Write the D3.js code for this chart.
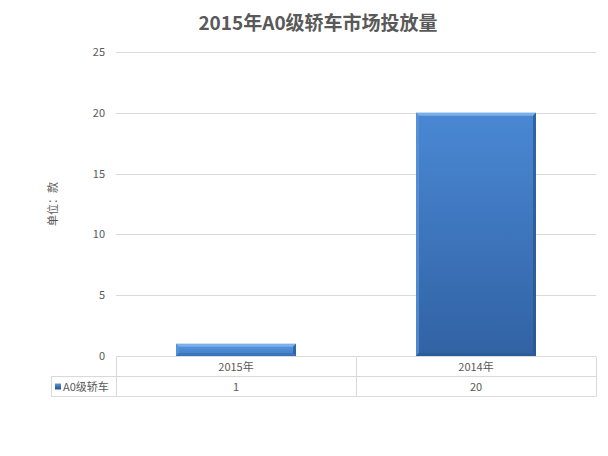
<!DOCTYPE html>
<html>
<head>
<meta charset="utf-8">
<script src="https://cdn.jsdelivr.net/npm/d3@7/dist/d3.min.js"></script>
<style>
  body { margin: 0; background: #fff; }
  svg text { font-family: "Noto Sans CJK SC", "Microsoft YaHei", sans-serif; fill: #595959; }
</style>
</head>
<body>
<svg width="608" height="456"></svg>
<script>
"use strict";

// data
const categories = ["2015年", "2014年"];
const seriesName = "A0级轿车";
const values = [1, 20];
const yTicks = [0, 5, 10, 15, 20, 25];
const yLabel = "单位：款";
const title = "2015年A0级轿车市场投放量";

const chart = d3.select("svg");

const plot = { left: 116, right: 596, top: 52, bottom: 356 },
      rowHeight = 20,
      tableLeft = 51,
      bevel = 3,
      gridColor = "#d9d9d9";

let scaleX = d3.scaleBand()
  .domain(categories)
  .range([plot.left, plot.right])
  .paddingInner(0.5)
  .paddingOuter(0.25);

let scaleY = d3.scaleLinear()
  .domain([0, 25])
  .range([plot.bottom, plot.top]);

// gradients
let defs = chart.append("defs");
let grad = defs.append("linearGradient")
  .attr("id", "barFill").attr("x1", 0).attr("y1", 0).attr("x2", 0).attr("y2", 1);
grad.append("stop").attr("offset", "0%").attr("stop-color", "#4a88d4");
grad.append("stop").attr("offset", "100%").attr("stop-color", "#3162a4");

let shortGrad = defs.append("linearGradient")
  .attr("id", "shortFill").attr("x1", 0).attr("y1", 0).attr("x2", 0).attr("y2", 1);
shortGrad.append("stop").attr("offset", "0%").attr("stop-color", "#5a98de");
shortGrad.append("stop").attr("offset", "100%").attr("stop-color", "#3f7cc6");

let legGrad = defs.append("linearGradient")
  .attr("id", "legFill").attr("x1", 0).attr("y1", 0).attr("x2", 0).attr("y2", 1);
legGrad.append("stop").attr("offset", "0%").attr("stop-color", "#5a96dc");
legGrad.append("stop").attr("offset", "100%").attr("stop-color", "#244f8c");

// title
chart.append("text")
  .attr("x", 318).attr("y", 30)
  .attr("text-anchor", "middle")
  .style("font-size", "19px").style("font-weight", "bold")
  .text(title);

// grid lines
chart.append("g")
  .attr("class", "grid")
  .selectAll("line")
  .data(yTicks)
  .enter()
  .append("line")
  .attr("x1", plot.left).attr("x2", plot.right)
  .attr("y1", d => Math.round(scaleY(d)) + 0.5)
  .attr("y2", d => Math.round(scaleY(d)) + 0.5)
  .attr("stroke", gridColor).attr("stroke-width", 1);

// y axis labels
chart.append("g")
  .attr("class", "y_axis")
  .selectAll("text")
  .data(yTicks)
  .enter()
  .append("text")
  .attr("x", 105)
  .attr("y", d => scaleY(d) + 4)
  .attr("text-anchor", "end")
  .style("font-size", "11px")
  .text(d => d);

chart.append("text")
  .attr("transform", `translate(57, ${(plot.top + plot.bottom) / 2}) rotate(-90)`)
  .attr("text-anchor", "middle")
  .style("font-size", "11px")
  .text(yLabel);

// bars
chart.append("g").attr("class", "bars")
  .selectAll("g")
  .data(values)
  .enter()
  .append("g")
  .each(function(d, i) {
    let g = d3.select(this),
        x0 = scaleX(categories[i]),
        x1 = x0 + scaleX.bandwidth(),
        y0 = scaleY(d),
        y1 = scaleY(0),
        short = (y1 - y0) < 30,
        b = Math.min(bevel, (y1 - y0) / 3);

    g.append("rect")
      .attr("x", x0).attr("y", y0)
      .attr("width", x1 - x0).attr("height", y1 - y0)
      .attr("fill", short ? "url(#shortFill)" : "url(#barFill)");

    // bevel edges
    g.append("polygon")
      .attr("points", `${x0},${y0} ${x1},${y0} ${x1 - b},${y0 + b} ${x0 + b},${y0 + b}`)
      .attr("fill", "#80b4ec").attr("opacity", 0.9);
    g.append("polygon")
      .attr("points", `${x0},${y0} ${x0 + b},${y0 + b} ${x0 + b},${y1 - b} ${x0},${y1}`)
      .attr("fill", "#5b95da").attr("opacity", 0.7);
    g.append("polygon")
      .attr("points", `${x1},${y0} ${x1 - b},${y0 + b} ${x1 - b},${y1 - b} ${x1},${y1}`)
      .attr("fill", "#2a5590").attr("opacity", 0.7);
    g.append("polygon")
      .attr("points", `${x0},${y1} ${x0 + b},${y1 - b} ${x1 - b},${y1 - b} ${x1},${y1}`)
      .attr("fill", short ? "#3a72b8" : "#2c5a98").attr("opacity", 0.8);
  });

// data table
let table = chart.append("g").attr("class", "table");
let tableLine = (x1, y1, x2, y2) => table.append("line")
  .attr("x1", x1).attr("y1", y1).attr("x2", x2).attr("y2", y2)
  .attr("stroke", gridColor).attr("stroke-width", 1);

let r0 = plot.bottom + 0.5, r1 = r0 + rowHeight, r2 = r1 + rowHeight;
tableLine(plot.left, r0, plot.right, r0);
tableLine(tableLeft, r1, plot.right, r1);
tableLine(tableLeft, r2, plot.right, r2);
tableLine(tableLeft + 0.5, r1, tableLeft + 0.5, r2);
tableLine(plot.left + 0.5, r0, plot.left + 0.5, r2);
categories.forEach(c => {
  let xe = scaleX(c) + scaleX.bandwidth() + scaleX.step() * scaleX.paddingInner() / 2;
  tableLine(Math.round(xe) + 0.5, r0, Math.round(xe) + 0.5, r2);
});

table.selectAll("text.cat")
  .data(categories)
  .enter()
  .append("text")
  .attr("class", "cat")
  .attr("x", d => scaleX(d) + scaleX.bandwidth() / 2)
  .attr("y", r0 + 14)
  .attr("text-anchor", "middle")
  .style("font-size", "11px")
  .text(d => d);

table.selectAll("text.val")
  .data(values)
  .enter()
  .append("text")
  .attr("class", "val")
  .attr("x", (d, i) => scaleX(categories[i]) + scaleX.bandwidth() / 2)
  .attr("y", r1 + 14)
  .attr("text-anchor", "middle")
  .style("font-size", "11px")
  .text(d => d);

// legend key
table.append("rect")
  .attr("x", 55).attr("y", r1 + 7)
  .attr("width", 6).attr("height", 6)
  .attr("fill", "url(#legFill)");
table.append("text")
  .attr("x", 63).attr("y", r1 + 14)
  .style("font-size", "11px")
  .text(seriesName);
</script>
</body>
</html>
